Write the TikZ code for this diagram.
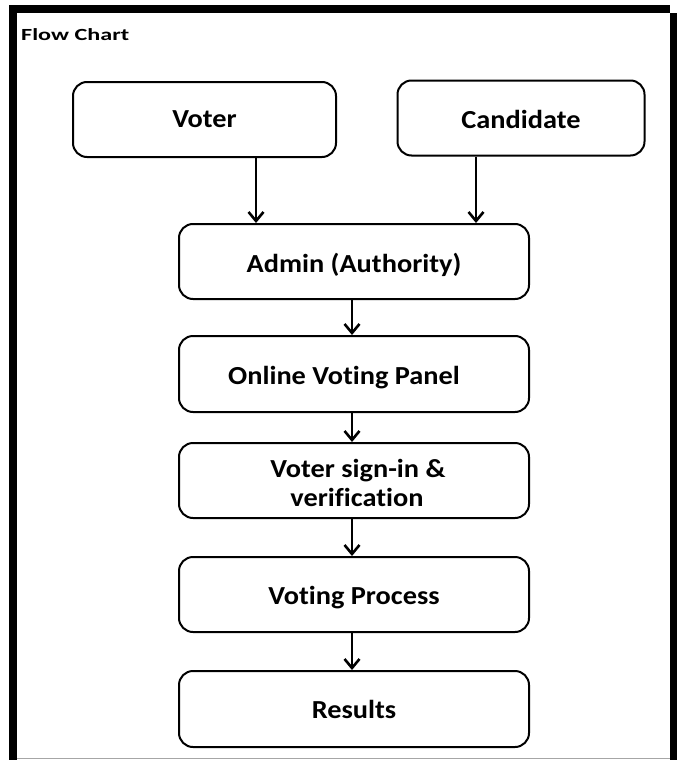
\documentclass[tikz,border=0pt]{standalone}
\usepackage{fontspec}
\setmainfont{Carlito}[Ligatures=NoCommon]
\usetikzlibrary{arrows.meta}
\newcommand{\wtxt}[1]{\scalebox{1.09}[1]{#1}}
\newcommand{\dtxt}[2]{\raisebox{-#1pt}[\height][\depth]{\scalebox{1.09}[1]{#2}}}
\begin{document}
\begin{tikzpicture}[x=1pt,y=-1pt,
  box/.style={draw=black,line width=2pt,rounded corners=14pt,fill=white,
    inner sep=0pt,align=center,font=\fontsize{26}{29}\selectfont\bfseries},
  conn/.style={line width=2.5pt,-{Straight Barb[length=9pt,width=15pt,line width=2.6pt]}}]
\useasboundingbox (0,0) rectangle (677,760);
% frame
\fill[black] (9,5) rectangle (670,13);
\fill[black] (9,5) rectangle (17,760);
\fill[black] (670,13) rectangle (677,760);
\draw[gray!70,line width=1pt] (17,758.5) -- (670,758.5);
\node[anchor=west,inner sep=0pt,font=\fontsize{17}{20}\selectfont\bfseries] (title) at (21,35) {\scalebox{1.42}[1]{Flow Chart}};
% boxes
\node[box,minimum width=263pt,minimum height=75pt] (voter) at (204.5,119.5) {\wtxt{Voter}};
\node[box,minimum width=247pt,minimum height=75pt] (cand) at (521,118) {\dtxt{1}{Candidate}};
\node[box,minimum width=350pt,minimum height=75pt] (admin) at (354,261.5) {\dtxt{3}{Admin (Authority)}};
\node[box,minimum width=350pt,minimum height=76pt] (online) at (354,374) {\dtxt{4}{Online Voting Panel}\hspace*{20pt}};
\node[box,minimum width=350pt,minimum height=75pt] (sign) at (354,480.5) {\raisebox{-2pt}[\height][\depth]{\hspace*{8pt}\wtxt{Voter sign-in \&}}\\\raisebox{-2pt}[\height][\depth]{\hspace*{6pt}\wtxt{verification}}};
\node[box,minimum width=350pt,minimum height=75pt] (vp) at (354,594.5) {\dtxt{3}{Voting Process}};
\node[box,minimum width=350pt,minimum height=76pt] (res) at (354,709) {\wtxt{Results}};
% connectors
\draw[conn] (voter.south -| 256,0) -- (admin.north -| 256,0);
\draw[conn] (cand.south -| 476,0) -- (admin.north -| 476,0);
\draw[conn] (admin.south -| 352,0) -- (online.north -| 352,0);
\draw[conn] (online.south -| 352,0) -- (sign.north -| 352,0);
\draw[conn] (sign.south -| 352,0) -- (vp.north -| 352,0);
\draw[conn] (vp.south -| 352,0) -- (res.north -| 352,0);
\end{tikzpicture}
\end{document}
